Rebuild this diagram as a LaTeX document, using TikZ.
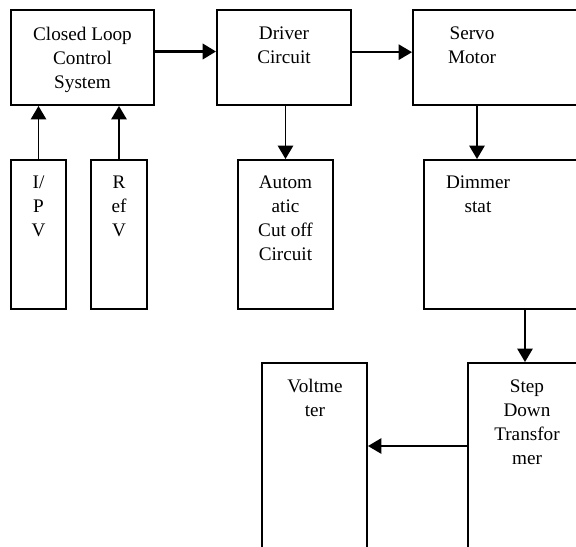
\documentclass[tikz,border=0pt]{standalone}
\usepackage{fontspec}
\setmainfont{Liberation Serif}
\usetikzlibrary{arrows.meta, fit}

\tikzset{
  block/.style={draw, line width=1.5pt, inner sep=0pt},
  txt/.style={align=center, anchor=north, inner sep=0pt,
    font=\fontsize{14.4}{17.8}\selectfont},
  arr/.style={-{Triangle[length=10pt,width=11.5pt]}, line width=1.2pt},
}

\begin{document}
\begin{tikzpicture}[x=0.75pt, y=-0.75pt]

  % Page and clipping
  \useasboundingbox (0,0) rectangle (576,547);
  \clip (0,0) rectangle (576,547);

  % Define blocks
  \node[block, fit={(11,10)(154,105)}] (ctrl) {};
  \node[block, fit={(217,10)(351,105)}] (driver) {};
  \node[block, fit={(413,10)(600,105)}] (servo) {};
  \node[block, fit={(11,160)(66,309)}] (ipv) {};
  \node[block, fit={(91,160)(147,309)}] (refv) {};
  \node[block, fit={(238,160)(333,309)}] (cutoff) {};
  \node[block, fit={(424,160)(600,309)}] (dimmer) {};
  \node[block, fit={(262,363)(367,560)}] (voltm) {};
  \node[block, fit={(468,363)(600,560)}] (stepdown) {};

  % Block texts
  \node[txt] (ctrltxt) at (82.5,27) {Closed Loop\\Control\\System};
  \node[txt] (drivertxt) at (284,27) {Driver\\Circuit};
  \node[txt] (servotxt) at (472,27) {Servo\\Motor};
  \node[txt] (ipvtxt) at (38.5,176) {I/\\P\\V};
  \node[txt] (refvtxt) at (119,176) {R\\ef\\V};
  \node[txt] (cutofftxt) at (285.5,176) {Autom\\atic\\Cut off\\Circuit};
  \node[txt] (dimmertxt) at (478,176) {Dimmer\\stat};
  \node[txt] (voltmtxt) at (315,379) {Voltme\\ter};
  \node[txt] (stepdowntxt) at (527,380) {Step\\Down\\Transfor\\mer};

  % Connect the blocks
  \draw[arr, line width=2pt] ([yshift=4.5pt]ctrl.east) -- ([yshift=4.5pt]ctrl.east -| driver.west);
  \draw[arr] ([yshift=4pt]driver.east) -- ([yshift=4pt]driver.east -| servo.west);
  \draw[arr] (ipv.north) -- (ipv.north |- ctrl.south);
  \draw[arr] (refv.north) -- (refv.north |- ctrl.south);
  \draw[arr] (driver.south -| cutoff.north) -- (cutoff.north);
  \draw[arr] ([xshift=48.75pt]servo.south west) -- ([xshift=48.75pt]servo.south west |- dimmer.north);
  \draw[arr] ([xshift=76.5pt]dimmer.south west) -- ([xshift=76.5pt]dimmer.south west |- stepdown.north);
  \draw[arr] ([yshift=-63pt]stepdown.north west) -- ([yshift=-63pt]stepdown.north west -| voltm.east);

\end{tikzpicture}
\end{document}
